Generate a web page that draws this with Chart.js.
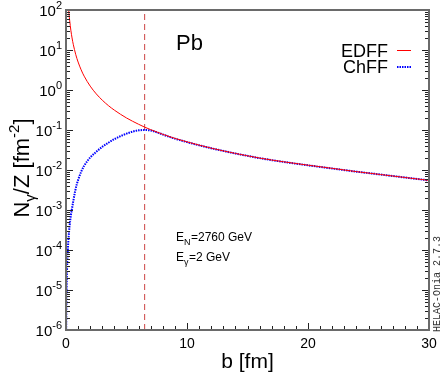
<!DOCTYPE html>
<html lang="en">
<head>
<meta charset="UTF-8">
<title>Photon flux Pb</title>
<script src="https://cdn.jsdelivr.net/npm/chart.js@4.4.0/dist/chart.umd.min.js"></script>
<style>body{margin:0;background:#fff}</style>
</head>
<body>
<canvas id="chart" width="441" height="379"></canvas>
<script>
// impact parameter b [fm] and N_gamma/Z [fm^-2]
const bEDFF = [0.2, 0.25, 0.3, 0.4, 0.5, 0.6, 0.8, 1, 1.25, 1.5, 2, 2.5, 3, 3.5, 4, 5, 6, 6.5, 7, 8, 9, 10, 12, 14, 16, 18, 20, 22, 24, 26, 28, 30];
const edff  = [125, 80, 55.6, 31.3, 20, 13.9, 7.8, 5.0, 3.2, 2.22, 1.25, 0.80, 0.556, 0.408, 0.313, 0.200, 0.139, 0.118, 0.102, 0.078, 0.0617, 0.0505, 0.0352, 0.0260, 0.0199, 0.0160, 0.0132, 0.0110, 0.0091, 0.0077, 0.0065, 0.0055];

const bChFF = [0.015, 0.03, 0.05, 0.08, 0.11, 0.15, 0.2, 0.3, 0.4, 0.5, 0.6, 0.75, 0.9, 1, 1.25, 1.5, 1.75, 2, 2.5, 3, 3.5, 4, 4.5, 5, 5.5, 6, 6.5, 7, 7.5, 8, 9, 10, 12, 14, 16, 18, 20, 22, 24, 26, 28, 30];
const chff  = [1.0e-6, 4.0e-6, 1.1e-5, 2.9e-5, 5.5e-5, 1.0e-4, 1.8e-4, 4.1e-4, 7.2e-4, 1.1e-3, 1.65e-3, 2.9e-3, 4.5e-3, 5.6e-3, 9.0e-3, 0.0128, 0.0165, 0.0205, 0.0285, 0.038, 0.048, 0.059, 0.070, 0.081, 0.091, 0.098, 0.100, 0.097, 0.088, 0.077, 0.0608, 0.0498, 0.0350, 0.0259, 0.0198, 0.0159, 0.0131, 0.0109, 0.0091, 0.0077, 0.0065, 0.0055];

const radiusB = 6.5;              // dashed vertical line
const xTicks = [0, 10, 20, 30];
const yExps = [2, 1, 0, -1, -2, -3, -4, -5, -6];

const toPts = (xs, ys) => xs.map((x, i) => ({x: x, y: ys[i]}));

const FONT = 'Liberation Sans, Arial, sans-serif';

function powLabel(ctx, base, exp, xRight, yBase, size, expSize) {
    ctx.font = expSize + 'px ' + FONT;
    const we = ctx.measureText(exp).width;
    ctx.font = size + 'px ' + FONT;
    const wb = ctx.measureText(base).width;
    ctx.textAlign = 'left';
    ctx.textBaseline = 'alphabetic';
    ctx.fillText(base, xRight - we - wb, yBase);
    ctx.font = expSize + 'px ' + FONT;
    ctx.fillText(exp, xRight - we, yBase - size * 0.45);
}

const decor = {
    id: 'decor',
    afterDraw(chart) {
        const ctx = chart.ctx;
        const xs = chart.scales.x, ys = chart.scales.y;
        const a = chart.chartArea;
        ctx.save();
        // ticks, inward
        ctx.strokeStyle = '#222';
        ctx.lineWidth = 1;
        ctx.beginPath();
        for (let v = 0; v <= 30; v++) {
            const px = Math.round(xs.getPixelForValue(v)) + 0.5;
            const len = v % 10 === 0 ? 7 : 4;
            ctx.moveTo(px, a.bottom); ctx.lineTo(px, a.bottom - len);
        }
        for (let e = -6; e < 2; e++) {
            for (let m = 1; m <= 9; m++) {
                const py = Math.round(ys.getPixelForValue(m * Math.pow(10, e))) + 0.5;
                const len = m === 1 ? 7 : 4;
                ctx.moveTo(a.left, py); ctx.lineTo(a.left + len, py);
                ctx.moveTo(a.right, py); ctx.lineTo(a.right - len, py);
            }
        }
        ctx.stroke();
        // frame
        ctx.strokeStyle = '#6a6a6a';
        ctx.lineWidth = 2;
        ctx.strokeRect(a.left, a.top, a.right - a.left, a.bottom - a.top);

        ctx.fillStyle = '#000';
        // x tick labels
        ctx.font = '14px ' + FONT;
        ctx.textAlign = 'center';
        ctx.textBaseline = 'alphabetic';
        xTicks.forEach(v => ctx.fillText(String(v), xs.getPixelForValue(v), a.bottom + 18));
        // y tick labels
        yExps.forEach(e => {
            const py = ys.getPixelForValue(Math.pow(10, e));
            powLabel(ctx, '10', String(e), a.left - 4, py + 6, 15, 11);
        });
        // x title
        ctx.font = '21px ' + FONT;
        ctx.textAlign = 'center';
        ctx.fillText('b [fm]', (a.left + a.right) / 2, 368);
        // y title, rotated
        ctx.save();
        ctx.translate(29, 168);
        ctx.rotate(-Math.PI / 2);
        ctx.textAlign = 'left';
        const parts = [['N', 22, 0], ['\u03b3', 15, 6], ['/Z [fm', 22, 0], ['-2', 15, -10], [']', 22, 0]];
        let total = 0;
        parts.forEach(p => { ctx.font = p[1] + 'px ' + FONT; total += ctx.measureText(p[0]).width; });
        let cx = -total / 2;
        parts.forEach(p => {
            ctx.font = p[1] + 'px ' + FONT;
            ctx.fillText(p[0], cx, p[2]);
            cx += ctx.measureText(p[0]).width;
        });
        ctx.restore();
        // Pb
        ctx.font = '22px ' + FONT;
        ctx.textAlign = 'left';
        ctx.fillText('Pb', 176, 50);
        // legend
        ctx.font = '18px ' + FONT;
        ctx.textAlign = 'right';
        ctx.fillText('EDFF', 388, 57);
        ctx.fillText('ChFF', 388, 73);
        ctx.strokeStyle = '#ff0000';
        ctx.lineWidth = 1;
        ctx.beginPath(); ctx.moveTo(397, 50.5); ctx.lineTo(411, 50.5); ctx.stroke();
        ctx.strokeStyle = '#0000ff';
        ctx.lineWidth = 2;
        ctx.setLineDash([1.5, 1]);
        ctx.beginPath(); ctx.moveTo(397, 67); ctx.lineTo(411, 67); ctx.stroke();
        ctx.setLineDash([]);
        // energies
        ctx.textAlign = 'left';
        ctx.font = '12px ' + FONT;
        ctx.fillText('E', 176, 241);
        ctx.font = '9px ' + FONT;
        ctx.fillText('N', 184, 245);
        ctx.font = '12px ' + FONT;
        ctx.fillText('=2760 GeV', 191, 241);
        ctx.fillText('E', 176, 261);
        ctx.font = '9px ' + FONT;
        ctx.fillText('\u03b3', 184, 265);
        ctx.font = '12px ' + FONT;
        ctx.fillText('=2 GeV', 189, 261);
        // version stamp
        ctx.save();
        ctx.translate(440, 332);
        ctx.rotate(-Math.PI / 2);
        ctx.font = '10px "Liberation Mono", "DejaVu Sans Mono", monospace';
        ctx.textAlign = 'left';
        ctx.fillStyle = '#333';
        ctx.fillText('HELAC-Onia 2.7.3', 0, 0);
        ctx.restore();
        ctx.restore();
    }
};

new Chart(document.getElementById('chart'), {
    type: 'line',
    data: {
        datasets: [
            {
                label: 'EDFF',
                data: toPts(bEDFF, edff),
                borderColor: '#ff0000',
                borderWidth: 1,
                pointRadius: 0,
                cubicInterpolationMode: 'monotone'
            },
            {
                label: 'ChFF',
                data: toPts(bChFF, chff),
                borderColor: '#0000ff',
                borderWidth: 2,
                borderDash: [1.5, 1],
                pointRadius: 0,
                cubicInterpolationMode: 'monotone'
            },
            {
                label: 'R',
                data: [{x: radiusB, y: 1e-6}, {x: radiusB, y: 100}],
                borderColor: '#cc4444',
                borderWidth: 1,
                borderDash: [6, 4],
                pointRadius: 0
            }
        ]
    },
    options: {
        responsive: false,
        animation: false,
        layout: {padding: {left: 66, right: 12, top: 10, bottom: 49}},
        plugins: {legend: {display: false}, tooltip: {enabled: false}},
        scales: {
            x: {type: 'linear', min: 0, max: 30, display: false},
            y: {type: 'logarithmic', min: 1e-6, max: 100, display: false}
        }
    },
    plugins: [decor]
});
</script>
</body>
</html>
